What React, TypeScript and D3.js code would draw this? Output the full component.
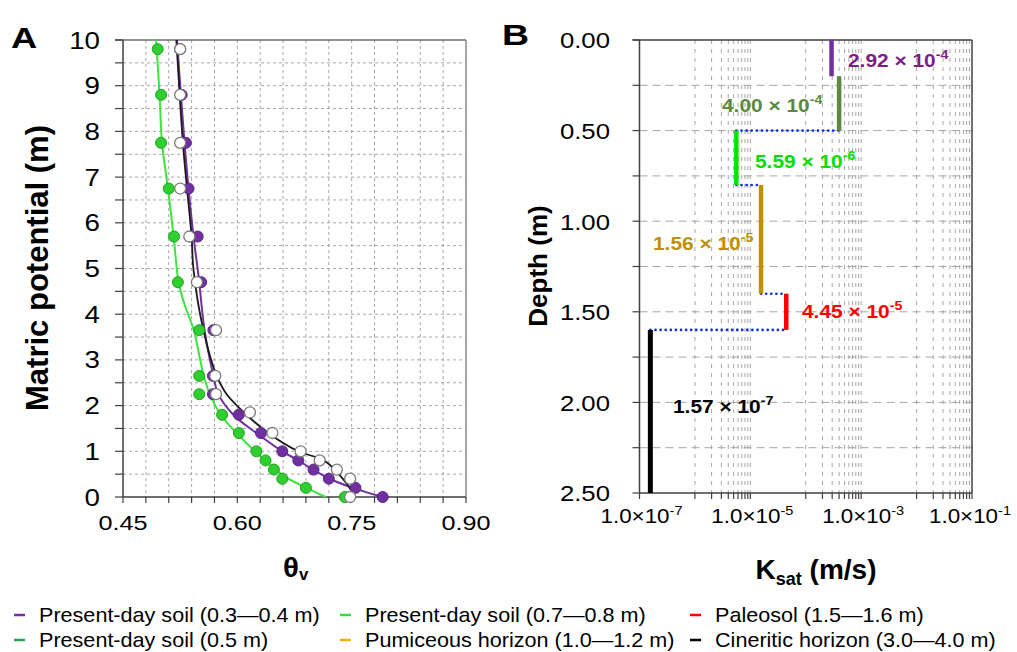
import React from 'react';
import * as d3 from 'd3';

const W = 1017;
const H = 652;
const FONT = 'Liberation Sans, Arial, Helvetica, sans-serif';

// ---------- Panel A data ----------
const pointH = [9.8, 8.8, 7.75, 6.75, 5.7, 4.7, 3.65, 2.65, 2.25, 1.8, 1.4, 1.0, 0.8, 0.6, 0.4, 0.2, 0.0];
const greenTheta = [0.4955, 0.5, 0.5, 0.51, 0.517, 0.522, 0.55, 0.55, 0.55, 0.58, 0.602, 0.625, 0.637, 0.648, 0.659, 0.69, 0.741];
const purpleTheta = [0.525, 0.527, 0.5325, 0.536, 0.548, 0.5525, 0.5686, 0.568, 0.568, 0.602, 0.631, 0.659, 0.68, 0.7, 0.72, 0.755, 0.7907];
const openH = [9.8, 8.8, 7.75, 6.75, 5.7, 4.7, 3.65, 2.65, 2.25, 1.85, 1.4, 1.0, 0.8, 0.6, 0.4, 0.0];
const openTheta = [0.525, 0.525, 0.525, 0.525, 0.537, 0.547, 0.572, 0.571, 0.572, 0.6165, 0.646, 0.683, 0.708, 0.7306, 0.748, 0.748];

const greenCurveH = [10, 8.8, 7.75, 6.75, 5.7, 4.7, 4.2, 3.65, 3.1, 2.65, 2.25, 1.8, 1.4, 1.0, 0.6, 0.4, 0.2, 0];
const greenCurveT = [0.4934, 0.498, 0.5012, 0.509, 0.5164, 0.523, 0.531, 0.543, 0.55, 0.556, 0.564, 0.578, 0.599, 0.623, 0.65, 0.6666, 0.6906, 0.716];
const purpleCurveH = [10, 7.75, 6.75, 5.7, 4.85, 3.65, 2.65, 2.25, 1.8, 1.4, 1.0, 0.8, 0.6, 0.4, 0.2, 0];
const purpleCurveT = [0.5208, 0.5307, 0.536, 0.5425, 0.549, 0.557, 0.5686, 0.575, 0.5947, 0.625, 0.659, 0.68, 0.699, 0.721, 0.7515, 0.7907];
const blackCurveH = [10, 7.75, 6.75, 5.7, 4.97, 3.65, 2.65, 2.25, 1.8, 1.4, 1.0, 0.85, 0.75, 0.5, 0.3, 0.15];
const blackCurveT = [0.52, 0.5286, 0.534, 0.54, 0.5425, 0.5555, 0.573, 0.586, 0.612, 0.6405, 0.68, 0.707, 0.718, 0.733, 0.743, 0.749];

const thetaTicks = [0.45, 0.6, 0.75, 0.9];
const potentialTicks = [0, 1, 2, 3, 4, 5, 6, 7, 8, 9, 10];

// ---------- Panel B data ----------
const layerK = [2.92e-4, 4.0e-4, 5.59e-6, 1.56e-5, 4.45e-5, 1.57e-7];
const layerTop = [0, 0.2, 0.5, 0.8, 1.4, 1.6];
const layerBottom = [0.2, 0.5, 0.8, 1.4, 1.6, 2.5];
const layerMant = ['2.92', '4.00', '5.59', '1.56', '4.45', '1.57'];
const layerExp = ['-4', '-4', '-6', '-5', '-5', '-7'];
const layerColor = ['#7030A0', '#5B8A3C', '#00E600', '#BF9000', '#FF0000', '#000000'];
const labelColor = ['#7B1F84', '#5B8A3C', '#00E000', '#BF9000', '#FF0000', '#000000'];

const connDepth = [0.5, 0.8, 1.4, 1.6];
const connFrom = [5.59e-6, 5.59e-6, 1.56e-5, 1.57e-7];
const connTo = [4.0e-4, 1.56e-5, 4.45e-5, 4.45e-5];

const depthTicks = [0, 0.5, 1, 1.5, 2, 2.5];
const kTickExp = [-7, -5, -3, -1];

// ---------- Legend ----------
const legendLabels = [
  'Present-day soil (0.3—0.4 m)', 'Present-day soil (0.7—0.8 m)', 'Paleosol (1.5—1.6 m)',
  'Present-day soil (0.5 m)', 'Pumiceous horizon (1.0—1.2 m)', 'Cineritic horizon (3.0—4.0 m)',
];
const legendColors = ['#7030A0', '#33E033', '#FF0000', '#2E9E55', '#F0B400', '#000000'];

// text drawn with a slight horizontal stretch (the reference figure is widened)
function ST(props: any) {
  const { x, y, sx = 1.15, children, ...rest } = props;
  return (
    <text transform={`translate(${x},${y}) scale(${sx},1)`} {...rest}>{children}</text>
  );
}

export default function App() {
  const ax = d3.scaleLinear().domain([0.45, 0.9]).range([123, 466]);
  const ay = d3.scaleLinear().domain([0, 10]).range([497, 40]);
  const bx = d3.scaleLog().domain([1e-7, 1e-1]).range([639.5, 972]);
  const by = d3.scaleLinear().domain([0, 2.5]).range([40, 493]);

  const line = d3.line<[number, number]>().x(d => ax(d[0])).y(d => ay(d[1])).curve(d3.curveCatmullRom.alpha(0.5));
  const zip = (t: number[], h: number[]) => t.map((v, i) => [v, h[i]] as [number, number]);

  const aGridX = d3.range(16).map(i => 0.45 + i * 0.03);
  const aGridY = d3.range(21).map(i => i * 0.5);

  const bMinor: number[] = [];
  [-6, -4, -2].forEach(n => { for (let k = 1; k <= 9; k++) bMinor.push(k * Math.pow(10, n)); });
  bMinor.push(1e-5, 1e-3);
  const bGridY = d3.range(11).map(i => i * 0.25);

  return (
    <svg width={W} height={H} style={{ position: 'absolute', left: 0, top: 0, background: '#fff' }} fontFamily={FONT}>
      <rect width={W} height={H} fill="#fff" />
      {/* ================= Panel A ================= */}
      <g>
        {aGridX.slice(1, -1).map((v, i) => (
          <line key={'agx' + i} x1={ax(v)} x2={ax(v)} y1={ay(10)} y2={ay(0)} stroke="#A6A6A6" strokeWidth={1} strokeDasharray="3,3" />
        ))}
        {aGridY.slice(1, -1).map((v, i) => (
          <line key={'agy' + i} x1={ax(0.45)} x2={ax(0.9)} y1={ay(v)} y2={ay(v)} stroke="#A6A6A6" strokeWidth={1} strokeDasharray="3,3" />
        ))}
        <line x1={ax(0.45) - 8} x2={ax(0.9)} y1={ay(10)} y2={ay(10)} stroke="#6d6d6d" strokeWidth={1.5} />
        <line x1={ax(0.9)} x2={ax(0.9)} y1={ay(10)} y2={ay(0)} stroke="#8a8a8a" strokeWidth={1.5} />
        <line x1={ax(0.45)} x2={ax(0.45)} y1={ay(10)} y2={ay(0)} stroke="#404040" strokeWidth={1.5} />
        <line x1={ax(0.45)} x2={ax(0.9)} y1={ay(0)} y2={ay(0)} stroke="#404040" strokeWidth={1.5} />
        {aGridY.map((v, i) => (
          <line key={'aty' + i} x1={ax(0.45) - 8} x2={ax(0.45)} y1={ay(v)} y2={ay(v)} stroke="#404040" strokeWidth={1.2} />
        ))}
        {aGridX.map((v, i) => (
          <line key={'atx' + i} x1={ax(v)} x2={ax(v)} y1={ay(0)} y2={ay(0) + 6} stroke="#404040" strokeWidth={1.2} />
        ))}
        {potentialTicks.map(v => (
          <ST key={'apl' + v} x={100} y={ay(v) + 8.5} sx={1.18} textAnchor="end" fontSize={23.5}>{v}</ST>
        ))}
        {thetaTicks.map(v => (
          <ST key={'atl' + v} x={ax(v)} y={530} sx={1.2} textAnchor="middle" fontSize={21}>{v.toFixed(2)}</ST>
        ))}

        <path d={line(zip(greenCurveT, greenCurveH)) || ''} fill="none" stroke="#3DE53D" strokeWidth={2} />
        <path d={line(zip(purpleCurveT, purpleCurveH)) || ''} fill="none" stroke="#7030A0" strokeWidth={2} />
        <path d={line(zip(blackCurveT, blackCurveH)) || ''} fill="none" stroke="#1a1a1a" strokeWidth={1.8} />

        {greenTheta.map((t, i) => (
          <circle key={'gp' + i} cx={ax(t)} cy={ay(pointH[i])} r={5.5} fill="#2FCF2F" stroke="#22A022" strokeWidth={1} />
        ))}
        {purpleTheta.map((t, i) => (
          <circle key={'pp' + i} cx={ax(t)} cy={ay(pointH[i])} r={5.5} fill="#7030A0" stroke="#5A2585" strokeWidth={1} />
        ))}
        {openTheta.map((t, i) => (
          <circle key={'op' + i} cx={ax(t)} cy={ay(openH[i])} r={5.5} fill="#ffffff" stroke="#7a7a7a" strokeWidth={1.3} />
        ))}

        <ST x={11} y={48} sx={1.25} fontSize={29} fontWeight="bold">A</ST>
        <text transform={`translate(48,268) rotate(-90)`} textAnchor="middle" fontSize={31} fontWeight="bold">Matric potential (m)</text>
        <ST x={283} y={577} sx={1.05} fontSize={28} fontWeight="bold">
          θ<tspan fontSize={16} dy={3}>v</tspan>
        </ST>
      </g>

      {/* ================= Panel B ================= */}
      <g>
        {bMinor.map((v, i) => (
          <line key={'bgx' + i} x1={bx(v)} x2={bx(v)} y1={by(0)} y2={by(2.5)} stroke="#A6A6A6" strokeWidth={1} strokeDasharray="4,5" />
        ))}
        {bGridY.slice(1, -1).map((v, i) => (
          <line key={'bgy' + i} x1={bx(1e-7)} x2={bx(1e-1)} y1={by(v)} y2={by(v)} stroke="#A6A6A6" strokeWidth={1} strokeDasharray="8,5" />
        ))}
        <line x1={bx(1e-7) - 7} x2={bx(1e-1)} y1={by(0)} y2={by(0)} stroke="#404040" strokeWidth={1.5} />
        <line x1={bx(1e-1)} x2={bx(1e-1)} y1={by(0)} y2={by(2.5)} stroke="#404040" strokeWidth={1.5} />
        <line x1={bx(1e-7)} x2={bx(1e-7)} y1={by(0)} y2={by(2.5)} stroke="#404040" strokeWidth={1.5} />
        <line x1={bx(1e-7)} x2={bx(1e-1)} y1={by(2.5)} y2={by(2.5)} stroke="#404040" strokeWidth={1.5} />
        {bGridY.map((v, i) => (
          <line key={'bty' + i} x1={bx(1e-7) - 7} x2={bx(1e-7)} y1={by(v)} y2={by(v)} stroke="#404040" strokeWidth={1.2} />
        ))}
        {[1e-7, 1e-1, ...bMinor].map((v, i) => (
          <line key={'btx' + i} x1={bx(v)} x2={bx(v)} y1={by(2.5)} y2={by(2.5) + 6} stroke="#404040" strokeWidth={1.2} />
        ))}
        {depthTicks.map(v => (
          <ST key={'bdl' + v} x={610} y={by(v) + 8.3} sx={1.12} textAnchor="end" fontSize={23}>{v.toFixed(2)}</ST>
        ))}
        {kTickExp.map(e => (
          <ST key={'bkl' + e} x={Math.min(bx(Math.pow(10, e)) + 2, 970)} y={523} sx={1.12} textAnchor="middle" fontSize={20}>
            1.0×10<tspan fontSize={13} dy={-8}>{String(e)}</tspan>
          </ST>
        ))}

        {connDepth.map((d, i) => (
          <line key={'cn' + i} x1={bx(connFrom[i])} x2={bx(connTo[i])} y1={by(d)} y2={by(d)} stroke="#1030E0" strokeWidth={2.6} strokeDasharray="0.1,5" strokeLinecap="round" />
        ))}
        {layerK.map((k, i) => (
          <line key={'seg' + i} x1={bx(k)} x2={bx(k)} y1={by(layerTop[i])} y2={by(layerBottom[i])} stroke={layerColor[i]} strokeWidth={i === 5 ? 5 : 4.5} />
        ))}

        {[[848, 66.5], [722, 111.5], [755, 168], [653, 250], [802, 318], [673, 412.5]].map((p, i) => (
          <ST key={'vl' + i} x={p[0]} y={p[1]} sx={1.1} fontSize={19} fontWeight="bold" fill={labelColor[i]}>
            {layerMant[i]} × 10<tspan fontSize={13} dy={-8}>{layerExp[i]}</tspan>
          </ST>
        ))}

        <ST x={502} y={45} sx={1.25} fontSize={30} fontWeight="bold">B</ST>
        <text transform={`translate(547,266) rotate(-90)`} textAnchor="middle" fontSize={26} fontWeight="bold">Depth (m)</text>
        <text x={816} y={579} textAnchor="middle" fontSize={28} fontWeight="bold">
          K<tspan fontSize={18} dy={6}>sat</tspan><tspan dy={-6}> (m/s)</tspan>
        </text>
      </g>

      {/* ================= Legend ================= */}
      <g>
        {legendLabels.map((lab, i) => {
          const col = i % 3;
          const row = Math.floor(i / 3);
          const x0 = [14, 340, 690][col];
          const y0 = [615, 640][row];
          return (
            <g key={'lg' + i}>
              <line x1={x0} x2={x0 + 11} y1={y0} y2={y0} stroke={legendColors[i]} strokeWidth={2.5} />
              <ST x={x0 + 25} y={y0 + 7} sx={1.08} fontSize={20} fill="#000">{lab}</ST>
            </g>
          );
        })}
      </g>
    </svg>
  );
}
